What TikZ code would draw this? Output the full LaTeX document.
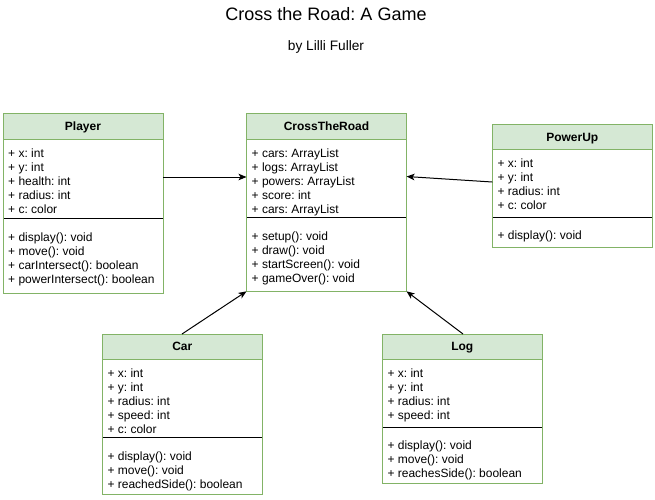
\documentclass[tikz,border=0pt]{standalone}
\usepackage{fontspec}
\setmainfont{Liberation Sans}
\frenchspacing
\usetikzlibrary{arrows.meta}
\definecolor{hdrfill}{HTML}{D5E8D4}
\definecolor{boxgreen}{HTML}{82B366}
\tikzset{
  classbox/.style={draw=boxgreen, line width=1pt, anchor=north west, inner sep=0pt, outer sep=0pt, minimum width=160},
  hdr/.style={font=\bfseries\fontsize{12}{14}\selectfont, anchor=base, inner sep=0pt},
  row/.style={font=\fontsize{12}{14}\selectfont, anchor=base west, inner sep=0pt},
  conn/.style={-{Stealth[length=8pt,width=6.5pt,inset=2pt]}, line width=1pt, black},
}
\newcommand\umlclass[7]{% name, L, T, header bottom, separator, bottom, title
  \fill[hdrfill] (#2,#3) rectangle ({#2+160},#4);
  \draw[boxgreen, line width=1pt] (#2,#4) -- ({#2+160},#4);
  \draw[black, line width=1pt] (#2,#5) -- ({#2+160},#5);
  \node[classbox, minimum height={#6-#3}] (#1) at (#2,#3) {};
  \node[hdr] (#1-title) at ({#2+80},{(#3+#4)/2+4.3}) {#7};
}
\newcommand\umlrows[4]{% name prefix, x, first baseline, list
  \foreach \t [count=\i] in {#4}
    \node[row] (#1\i) at (#2,{#3+14*(\i-1)}) {\t};
}
\begin{document}
\begin{tikzpicture}[x=1pt,y=-1pt]
\useasboundingbox (0,0) rectangle (655,499);

\node[font=\fontsize{18}{21}\selectfont, anchor=base, inner sep=0pt] (title) at (326,20.8) {Cross the Road: A Game};
\node[font=\fontsize{13.7}{16}\selectfont, anchor=base, inner sep=0pt] (subtitle) at (326,50.5) {by Lilli Fuller};

% Player
\umlclass{player}{3}{113}{139.3}{218.4}{293.3}{Player}
\umlrows{player-a}{8}{157}{+ x: int,+ y: int,+ health: int,+ radius: int,+ c: color}
\umlrows{player-m}{8}{241}{+ display(): void,+ move(): void,+ carIntersect(): boolean,+ powerIntersect(): boolean}

% CrossTheRoad
\umlclass{ctr}{246.5}{113}{139.3}{217.4}{291.3}{CrossTheRoad}
\umlrows{ctr-a}{251.5}{157}{+ cars: ArrayList,+ logs: ArrayList,+ powers: ArrayList,+ score: int,+ cars: ArrayList}
\umlrows{ctr-m}{251.5}{240}{+ setup(): void,+ draw(): void,+ startScreen(): void,+ gameOver(): void}

% PowerUp
\umlclass{power}{492.3}{124}{149.4}{217.5}{247.3}{PowerUp}
\umlrows{power-a}{497.3}{167}{+ x: int,+ y: int,+ radius: int,+ c: color}
\umlrows{power-m}{497.3}{239.6}{+ display(): void}

% Car
\umlclass{car}{102.3}{334}{359}{437.7}{494}{Car}
\umlrows{car-a}{107.3}{377}{+ x: int,+ y: int,+ radius: int,+ speed: int,+ c: color}
\umlrows{car-m}{107.3}{460}{+ display(): void,+ move(): void,+ reachedSide(): boolean}

% Log
\umlclass{log}{382.3}{334}{359}{427.7}{483.3}{Log}
\umlrows{log-a}{387.3}{377}{+ x: int,+ y: int,+ radius: int,+ speed: int}
\umlrows{log-m}{387.3}{449}{+ display(): void,+ move(): void,+ reachesSide(): boolean}

% connectors
\draw[conn] (player.east |- 0,177) -- (ctr.west |- 0,177);
\draw[conn] (power.west |- 0,182) -- (ctr.east |- 0,176.5);
\draw[conn] (car.north -| 182,0) -- (ctr.south west);
\draw[conn] (log.north -| 463,0) -- (ctr.south east);
\end{tikzpicture}
\end{document}
